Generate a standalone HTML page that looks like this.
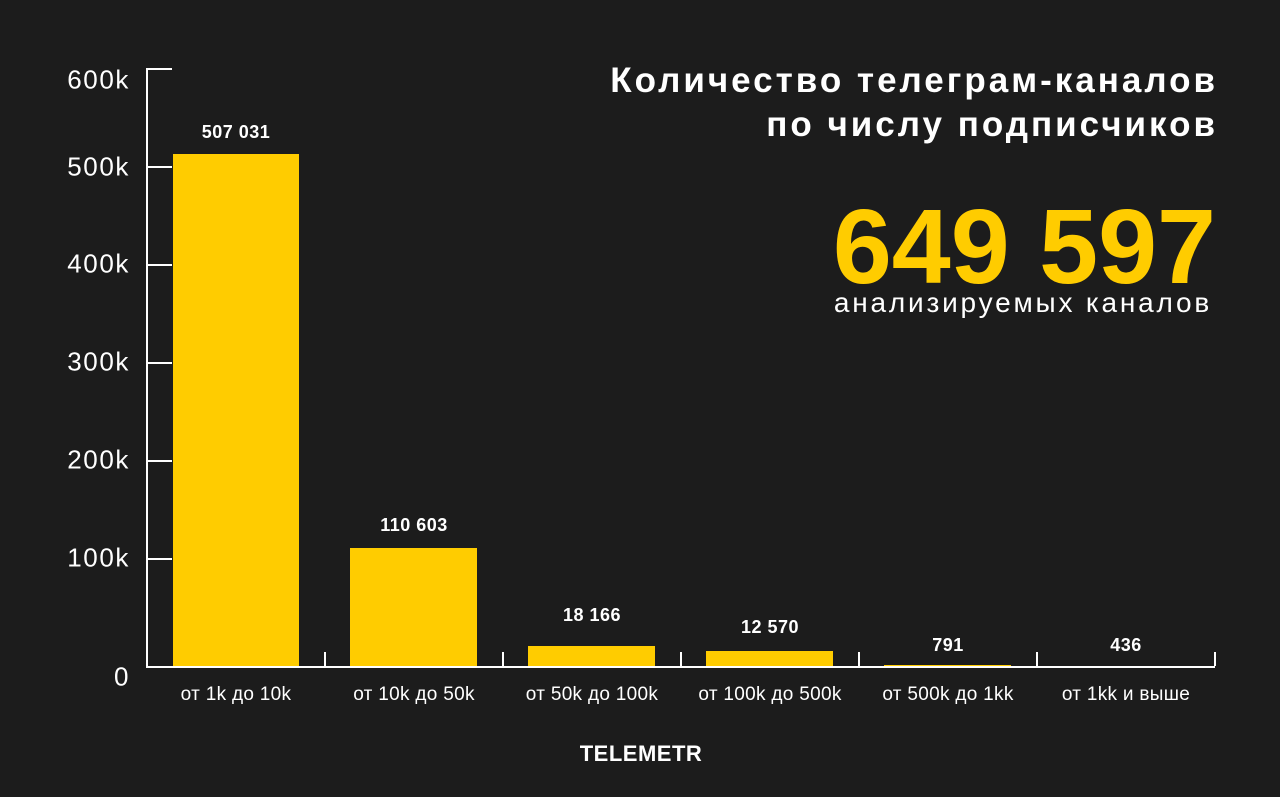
<!DOCTYPE html><html><head><meta charset="utf-8"><style>
body{margin:0;width:1280px;height:797px;background:#1c1c1c;overflow:hidden;font-family:"Liberation Sans",sans-serif;color:#fff;position:relative}
.a{position:absolute}
.yl{position:absolute;right:1150px;font-size:26px;letter-spacing:1.6px;transform:translateY(-50%)}
.bar{position:absolute;background:#ffcc00}
.v{position:absolute;font-weight:bold;font-size:18px;letter-spacing:0.5px;text-align:center;width:178px}
.c{position:absolute;top:684px;font-size:19px;letter-spacing:0.3px;text-align:center;width:178px}
</style></head><body>
<div class="a" style="left:146px;top:68px;width:2px;height:599px;background:#fff"></div>
<div class="a" style="left:146px;top:68px;width:26px;height:2px;background:#fff"></div>
<div class="a" style="left:146px;top:666px;width:1069px;height:2px;background:#fff"></div>
<div class="a" style="left:146px;top:166px;width:26px;height:2px;background:#fff"></div>
<div class="a" style="left:146px;top:264px;width:26px;height:2px;background:#fff"></div>
<div class="a" style="left:146px;top:362px;width:26px;height:2px;background:#fff"></div>
<div class="a" style="left:146px;top:460px;width:26px;height:2px;background:#fff"></div>
<div class="a" style="left:146px;top:558px;width:26px;height:2px;background:#fff"></div>
<div class="a" style="left:324px;top:652px;width:2px;height:14px;background:#fff"></div>
<div class="a" style="left:502px;top:652px;width:2px;height:14px;background:#fff"></div>
<div class="a" style="left:680px;top:652px;width:2px;height:14px;background:#fff"></div>
<div class="a" style="left:858px;top:652px;width:2px;height:14px;background:#fff"></div>
<div class="a" style="left:1036px;top:652px;width:2px;height:14px;background:#fff"></div>
<div class="a" style="left:1214px;top:652px;width:2px;height:14px;background:#fff"></div>
<div class="yl" style="top:80px">600k</div>
<div class="yl" style="top:167px">500k</div>
<div class="yl" style="top:264px">400k</div>
<div class="yl" style="top:362px">300k</div>
<div class="yl" style="top:460px">200k</div>
<div class="yl" style="top:558px">100k</div>
<div class="yl" style="top:677px">0</div>
<div class="bar" style="left:173px;top:154px;width:126px;height:512px"></div>
<div class="bar" style="left:350px;top:548px;width:127px;height:118px"></div>
<div class="bar" style="left:528px;top:646px;width:127px;height:20px"></div>
<div class="bar" style="left:706px;top:651px;width:127px;height:15px"></div>
<div class="bar" style="left:884px;top:665px;width:127px;height:1px"></div>
<div class="v" style="left:147px;top:122px">507 031</div>
<div class="v" style="left:325px;top:515px">110 603</div>
<div class="v" style="left:503px;top:605px">18 166</div>
<div class="v" style="left:681px;top:617px">12 570</div>
<div class="v" style="left:859px;top:635px">791</div>
<div class="v" style="left:1037px;top:635px">436</div>
<div class="c" style="left:147px">от 1k до 10k</div>
<div class="c" style="left:325px">от 10k до 50k</div>
<div class="c" style="left:503px">от 50k до 100k</div>
<div class="c" style="left:681px">от 100k до 500k</div>
<div class="c" style="left:859px">от 500k до 1kk</div>
<div class="c" style="left:1037px">от 1kk и выше</div>
<div class="a" style="left:0;width:1282px;text-align:center;top:741px;font-weight:bold;font-size:22px;letter-spacing:0.5px">TELEMETR</div>
<div class="a" style="right:62px;top:59px;text-align:right;font-weight:bold;font-size:35px;letter-spacing:3px;line-height:44px;white-space:nowrap">Количество телеграм-каналов<br>по числу подписчиков</div>
<div class="a" style="right:64px;top:192px;text-align:right;font-weight:bold;font-size:106px;letter-spacing:0px;line-height:110px;color:#ffcc00;white-space:nowrap">649 597</div>
<div class="a" style="right:68px;top:285px;text-align:right;font-size:28px;letter-spacing:2.8px;line-height:36px;white-space:nowrap">анализируемых каналов</div>
</body></html>
